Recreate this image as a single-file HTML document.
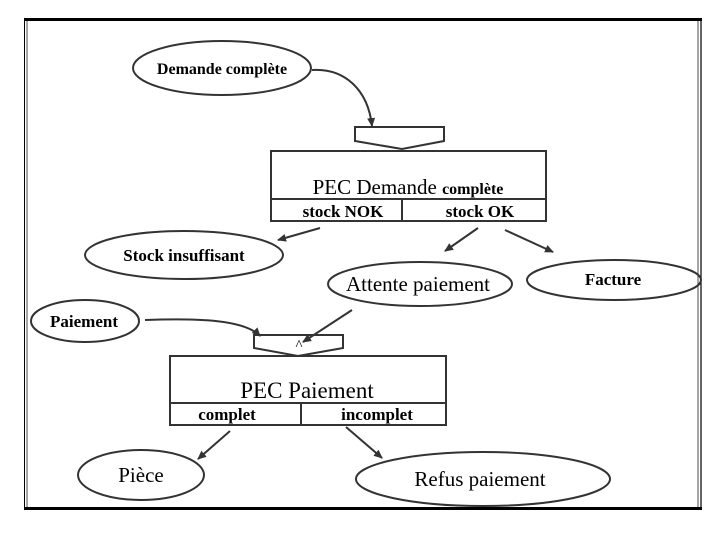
<!DOCTYPE html>
<html><head><meta charset="utf-8"><style>
html,body{margin:0;padding:0;background:#fff;}
svg{display:block;font-family:"Liberation Serif",serif;}
</style></head><body>
<svg width="720" height="540" viewBox="0 0 720 540" xmlns="http://www.w3.org/2000/svg">
<defs><marker id="a" markerWidth="10" markerHeight="10" refX="8" refY="5" orient="auto" markerUnits="userSpaceOnUse"><path d="M0,1 L9,5 L0,9 Z" fill="#333"/></marker></defs>
<rect x="0" y="0" width="720" height="540" fill="#fff"/>
<!-- frame -->
<line x1="24" y1="19.5" x2="702" y2="19.5" stroke="#000" stroke-width="3"/>
<line x1="24.5" y1="18" x2="24.5" y2="510" stroke="#000" stroke-width="1"/>
<line x1="27" y1="21" x2="27" y2="507" stroke="#000" stroke-width="0.7"/>
<line x1="698" y1="21" x2="698" y2="507" stroke="#000" stroke-width="0.7"/>
<line x1="701" y1="18" x2="701" y2="510" stroke="#000" stroke-width="1.2"/>
<line x1="24" y1="508.5" x2="702" y2="508.5" stroke="#000" stroke-width="3"/>
<g fill="none" stroke="#333" stroke-width="2">
<ellipse cx="222" cy="68" rx="89" ry="27"/>
<ellipse cx="184" cy="255" rx="99" ry="24"/>
<ellipse cx="420" cy="284" rx="92" ry="22"/>
<ellipse cx="614" cy="280" rx="87" ry="20"/>
<ellipse cx="85" cy="321" rx="54" ry="21"/>
<ellipse cx="141" cy="475" rx="63" ry="25"/>
<ellipse cx="483" cy="479" rx="127" ry="27"/>
<path d="M355,127 H444 V141 L402,149 L355,141 Z"/>
<rect x="271" y="151" width="275" height="70"/>
<line x1="271" y1="199" x2="546" y2="199"/>
<line x1="402" y1="199" x2="402" y2="221"/>
<path d="M254,335 H343 V348 L298,356 L254,348 Z"/>
<rect x="170" y="356" width="276" height="69"/>
<line x1="170" y1="403" x2="446" y2="403"/>
<line x1="301" y1="403" x2="301" y2="425"/>
<path d="M312,70 C345,68 368,90 372,126" marker-end="url(#a)"/>
<path d="M320,228 L278,240" marker-end="url(#a)"/>
<path d="M478,228 L445,251" marker-end="url(#a)"/>
<path d="M505,230 L553,252" marker-end="url(#a)"/>
<path d="M145,320 C200,318 245,320 260,336" marker-end="url(#a)"/>
<path d="M352,310 L303,342" marker-end="url(#a)"/>
<path d="M230,431 L198,459" marker-end="url(#a)"/>
<path d="M346,427 L382,458" marker-end="url(#a)"/>
</g>
<g fill="#000" text-anchor="middle">
<text x="222" y="74" font-size="16" font-weight="bold">Demande complète</text>
<text x="408" y="194"><tspan font-size="21">PEC Demande </tspan><tspan font-size="16" font-weight="bold">complète</tspan></text>
<text x="343" y="217" font-size="17" font-weight="bold">stock NOK</text>
<text x="480" y="217" font-size="17" font-weight="bold">stock OK</text>
<text x="184" y="261" font-size="17" font-weight="bold">Stock insuffisant</text>
<text x="418" y="291" font-size="21">Attente paiement</text>
<text x="613" y="285" font-size="17" font-weight="bold">Facture</text>
<text x="84" y="327" font-size="17" font-weight="bold">Paiement</text>
<text x="299" y="350" font-size="15">^</text>
<text x="307" y="398" font-size="23">PEC Paiement</text>
<text x="227" y="420" font-size="17" font-weight="bold">complet</text>
<text x="377" y="420" font-size="17" font-weight="bold">incomplet</text>
<text x="141" y="482" font-size="21">Pièce</text>
<text x="480" y="486" font-size="21">Refus paiement</text>
</g>
</svg>
</body></html>
